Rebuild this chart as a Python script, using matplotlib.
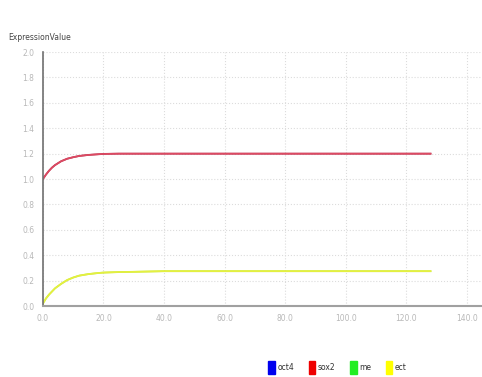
import matplotlib.pyplot as plt
from matplotlib.patches import Rectangle

# time points and expression levels read from the simulation output
t_sox2 = [0, 1, 2, 3, 4, 5, 6, 8, 10, 12, 15, 18, 20, 25, 30, 128]
sox2 = [1.00, 1.035, 1.065, 1.09, 1.11, 1.125, 1.14, 1.16, 1.172, 1.182, 1.19, 1.195, 1.198, 1.2, 1.2, 1.2]
oct4 = sox2

t_ect = [0, 1, 2, 3, 4, 6, 8, 10, 12, 15, 18, 20, 25, 30, 40, 128]
ect = [0.02, 0.06, 0.09, 0.115, 0.14, 0.175, 0.205, 0.225, 0.24, 0.252, 0.26, 0.264, 0.268, 0.27, 0.275, 0.275]
me = ect

series = ['oct4', 'sox2', 'me', 'ect']
colors = ['#0000ee', '#ee0000', '#22ee22', '#ffff00']
xticks = [0, 20, 40, 60, 80, 100, 120, 140]
yticks = [0.0, 0.2, 0.4, 0.6, 0.8, 1.0, 1.2, 1.4, 1.6, 1.8, 2.0]

fig = plt.figure(figsize=(4.82, 3.77), dpi=100)
ax = fig.add_axes([0.089, 0.188, 0.911, 0.674])

ax.plot(t_sox2, oct4, color='#b03050', lw=1.3)
ax.plot(t_sox2, sox2, color='#dd4a62', lw=1.2)
ax.plot(t_ect, me, color='#c8e83a', lw=1.3)
ax.plot(t_ect, ect, color='#e4f040', lw=1.2)

ax.set_xlim(0, 145)
ax.set_ylim(0, 2.0)
ax.set_xticks(xticks)
ax.set_xticklabels([f'{v:.1f}' for v in xticks])
ax.set_yticks(yticks)
ax.set_yticklabels([f'{v:.1f}' for v in yticks])
ax.tick_params(length=0, labelsize=5.5, colors='#b8b8b8', pad=6)
ax.grid(True, color='#dcdcdc', linestyle=':', linewidth=0.8)
ax.set_axisbelow(True)

for side in ['top', 'right']:
    ax.spines[side].set_visible(False)
ax.spines['left'].set_color('#707070')
ax.spines['left'].set_linewidth(1.2)
ax.spines['bottom'].set_color('#a0a0a0')
ax.spines['bottom'].set_linewidth(1.5)

fig.text(0.017, 0.893, 'ExpressionValue', fontsize=5.5, color='#444444')

handles = [Rectangle((0, 0), 1, 1, color=c) for c in colors]
fig.legend(handles, series, loc='center', bbox_to_anchor=(0.70, 0.025), ncol=4,
           frameon=False, fontsize=5.5, handlelength=0.9, handleheight=2.3,
           handletextpad=0.3, columnspacing=1.9, labelcolor='#333333')

fig.savefig('out.png', dpi=100)
